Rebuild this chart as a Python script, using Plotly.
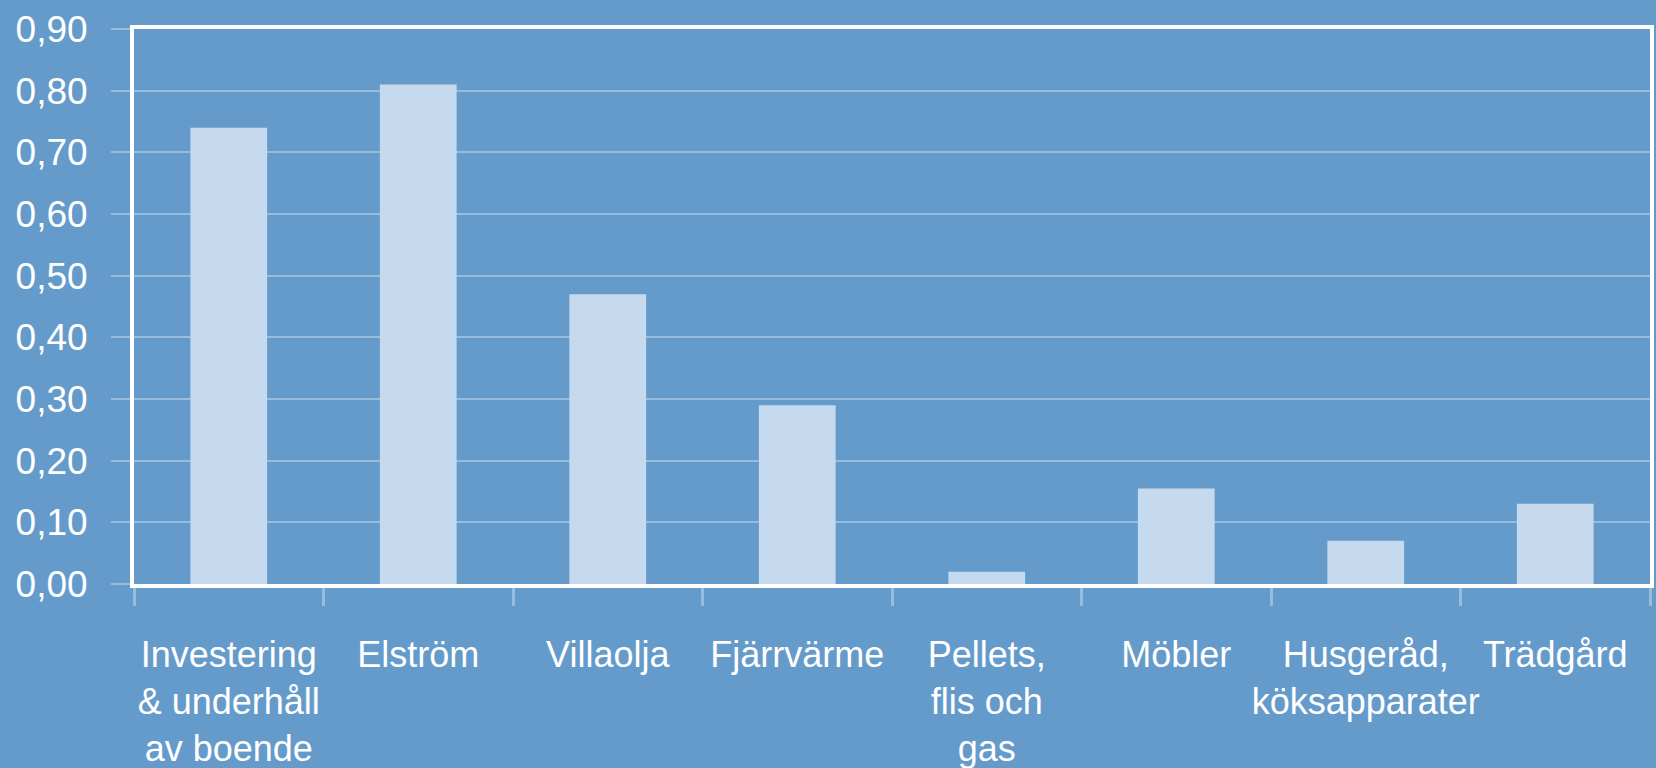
import plotly.graph_objects as go

categories = [
    "Investering<br>& underhåll<br>av boende",
    "Elström",
    "Villaolja",
    "Fjärrvärme",
    "Pellets,<br>flis och<br>gas",
    "Möbler",
    "Husgeråd,<br>köksapparater",
    "Trädgård",
]
values = [0.74, 0.81, 0.47, 0.29, 0.02, 0.155, 0.07, 0.13]
y_ticks = [0.0, 0.1, 0.2, 0.3, 0.4, 0.5, 0.6, 0.7, 0.8, 0.9]

BG = "#659BCB"
BAR = "#C5DAEE"
GRID = "rgba(255,255,255,0.33)"
FONT = "Liberation Sans, Arial, sans-serif"

fig = go.Figure(
    go.Bar(
        x=categories,
        y=values,
        marker=dict(color=BAR, line=dict(width=0)),
        width=0.405,
    )
)

fig.update_layout(
    width=1656,
    height=768,
    paper_bgcolor=BG,
    plot_bgcolor=BG,
    margin=dict(l=134, r=6, t=29, b=184),
    font=dict(family=FONT, color="white", size=37),
    separators=", ",
    showlegend=False,
)

fig.update_yaxes(
    range=[0, 0.9],
    tickvals=y_ticks,
    tickformat=".2f",
    showgrid=True,
    gridcolor=GRID,
    gridwidth=2,
    zeroline=False,
    ticks="outside",
    ticklen=19,
    tickcolor=GRID,
    tickwidth=2,
    showline=True,
    linecolor="white",
    linewidth=4,
    mirror=True,
    automargin=False,
    ticklabelstandoff=16,
    tickfont=dict(size=37, color="white", family=FONT),
)

fig.update_xaxes(
    tickson="boundaries",
    ticks="outside",
    ticklen=18,
    tickcolor=GRID,
    tickwidth=3,
    showgrid=False,
    showline=True,
    linecolor="white",
    linewidth=4,
    mirror=True,
    tickangle=0,
    automargin=False,
    ticklabelstandoff=36,
    tickfont=dict(size=36, color="white", family=FONT),
)

fig.write_html(
    "out.html",
    config={"displayModeBar": False},
    post_script="document.body.style.margin='0';document.body.style.background='%s';" % BG,
)
